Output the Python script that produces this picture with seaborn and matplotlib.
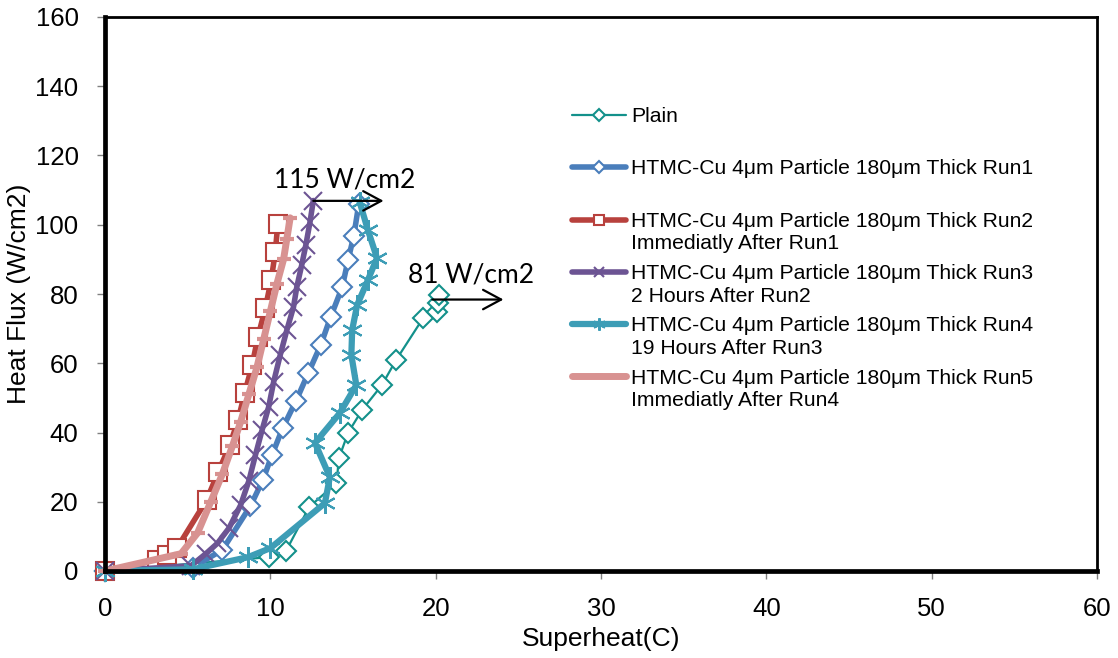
import numpy as np
import pandas as pd
import matplotlib
matplotlib.use("Agg")
import matplotlib.pyplot as plt
import seaborn as sns
from matplotlib.legend_handler import HandlerLine2D

# ---------------- data ----------------
plain_x = [0, 9.9, 10.95, 12.35, 14.0, 14.15, 14.7, 15.55, 16.75, 17.6, 19.25, 20.1, 20.15, 20.2]
plain_y = [0, 4.0, 5.8, 18.5, 25.4, 32.6, 39.9, 46.5, 53.7, 60.9, 73.1, 74.8, 77.4, 79.7]

run1_x = [0, 5.3, 7.1, 8.8, 9.55, 10.1, 10.75, 11.55, 12.3, 13.05, 13.65, 14.35, 14.7, 15.05, 15.35]
run1_y = [0, 1.0, 6.1, 18.8, 26.3, 33.5, 41.3, 49.1, 57.2, 65.3, 73.4, 82.0, 89.8, 96.8, 106.0]

run2_x = [0, 3.15, 3.75, 4.35, 6.15, 6.85, 7.55, 8.05, 8.45, 8.9, 9.25, 9.7, 10.05, 10.3, 10.45]
run2_y = [0, 3.2, 4.6, 6.6, 20.5, 28.6, 36.4, 43.6, 51.4, 59.5, 67.6, 76.0, 84.0, 92.1, 100.2]

run3_x = [0, 5.2, 6.1, 6.8, 7.5, 8.2, 8.7, 9.1, 9.5, 9.9, 10.2, 10.6, 11.0, 11.4, 11.6, 11.9, 12.15, 12.4, 12.6]
run3_y = [0, 1.5, 5.0, 8.0, 12.4, 19.0, 26.0, 33.5, 40.7, 47.4, 54.6, 62.4, 69.6, 76.2, 82.0, 88.4, 94.2, 100.8, 107.0]

run4_x = [0, 5.3, 8.65, 10.0, 13.3, 13.6, 12.7, 14.2, 15.2, 14.9, 14.95, 15.25, 15.9, 16.45, 15.9, 15.4]
run4_y = [0, 0.5, 4.0, 6.6, 19.6, 27.1, 37.0, 45.6, 53.7, 62.4, 69.6, 76.8, 84.0, 90.4, 98.5, 106.6]

run5_x = [0, 4.6, 5.6, 6.4, 7.1, 7.7, 8.2, 8.7, 9.2, 9.6, 10.0, 10.4, 10.8, 11.0, 11.2]
run5_y = [0, 5, 11, 20, 28, 36, 43, 51, 59, 67, 75, 83, 90, 96, 102]

labels = [
    "Plain",
    "HTMC-Cu 4\u03bcm Particle 180\u03bcm Thick Run1",
    "HTMC-Cu 4\u03bcm Particle 180\u03bcm Thick Run2\nImmediatly After Run1",
    "HTMC-Cu 4\u03bcm Particle 180\u03bcm Thick Run3\n2 Hours After Run2",
    "HTMC-Cu 4\u03bcm Particle 180\u03bcm Thick Run4\n19 Hours After Run3",
    "HTMC-Cu 4\u03bcm Particle 180\u03bcm Thick Run5\nImmediatly After Run4",
]
x_ticks = [0, 10, 20, 30, 40, 50, 60]
y_ticks = [0, 20, 40, 60, 80, 100, 120, 140, 160]
x_label = "Superheat(C)"
y_label = "Heat Flux (W/cm2)"
chf_labels = ["115 W/cm2", "81 W/cm2"]

# ---------------- style ----------------
sns.set_theme(style="white")
plt.rcParams['font.family'] = ['Liberation Sans', 'DejaVu Sans']
plt.rcParams['text.color'] = 'black'
plt.rcParams['axes.labelcolor'] = 'black'

fig = plt.figure(figsize=(11.18, 6.58), dpi=100)
ax = fig.add_axes([105/1118, 1 - 571/658, 992/1118, 554/658])

styles = [
    dict(color="#13918b", lw=1.6, marker="D", ms=10.5, mfc="white", mew=1.5),
    dict(color="#4a7ebb", lw=4.0, marker="D", ms=10.5, mfc="white", mew=1.5),
    dict(color="#b8413d", lw=4.0, marker="s", ms=13, mfc="white", mew=1.5),
    dict(color="#6c5493", lw=4.0, marker="x", ms=13, mfc="white", mew=1.5),
    dict(color="#3d9db6", lw=4.5, marker=(6, 2, 0), ms=15, mfc="white", mew=1.5),
    dict(color="#d89291", lw=5.0, marker="_", ms=10, mfc="white", mew=3.0),
]
xs = [plain_x, run1_x, run2_x, run3_x, run4_x, run5_x]
ys = [plain_y, run1_y, run2_y, run3_y, run4_y, run5_y]

for x, y, st, lab in zip(xs, ys, styles, labels):
    df = pd.DataFrame({"x": x, "y": y})
    sns.lineplot(data=df, x="x", y="y", ax=ax, sort=False, estimator=None,
                 color=st["color"], linewidth=st["lw"], marker=st["marker"],
                 markersize=st["ms"], markerfacecolor=st["mfc"],
                 markeredgecolor=st["color"], markeredgewidth=st["mew"],
                 label=lab, clip_on=False)

ax.set_xlim(0, 60)
ax.set_ylim(0, 160)
ax.set_xticks(x_ticks)
ax.set_yticks(y_ticks)
ax.tick_params(bottom=True, left=True, direction='out', length=6, width=1,
               color='#808080', labelcolor='black', labelsize=18.5)
ax.tick_params(axis='y', pad=13)
ax.tick_params(axis='x', pad=13)
ax.set_xlabel(x_label, fontsize=19, labelpad=4)
ax.set_ylabel(y_label, fontsize=19, labelpad=3)

for side, w in [("left", 3.4), ("bottom", 3.4), ("top", 2.0), ("right", 2.0)]:
    ax.spines[side].set_visible(True)
    ax.spines[side].set_color("black")
    ax.spines[side].set_linewidth(w)

# annotations
ax.annotate("", xy=(16.85, 106.9), xytext=(12.6, 106.9),
            arrowprops=dict(arrowstyle="->,head_length=1.3,head_width=0.7",
                            color="black", lw=1.6, mutation_scale=10,
                            shrinkA=0, shrinkB=0))
ax.annotate("", xy=(24.1, 78.4), xytext=(19.8, 78.4),
            arrowprops=dict(arrowstyle="->,head_length=1.3,head_width=0.7",
                            color="black", lw=1.6, mutation_scale=10,
                            shrinkA=0, shrinkB=0))
ax.text(14.5, 112.9, chf_labels[0], fontsize=19, family=['Lato', 'DejaVu Sans'],
        ha='center', va='center')
ax.text(22.15, 85.5, chf_labels[1], fontsize=19, family=['Lato', 'DejaVu Sans'],
        ha='center', va='center')

# legend: handle aligned with the first line of each label
class UpHandler(HandlerLine2D):
    def __init__(self, dy, **kw):
        super().__init__(**kw)
        self.dy = dy

    def create_artists(self, legend, orig_handle, xdescent, ydescent, width,
                       height, fontsize, trans):
        arts = super().create_artists(legend, orig_handle, xdescent, ydescent,
                                      width, height, fontsize, trans)
        for a in arts:
            a.set_ydata(np.asarray(a.get_ydata(), dtype=float) + self.dy)
        return arts

leg_fs = 15.2
handles = ax.get_lines()[:6]
leg_labels = [l if "\n" in l else l + "\n" for l in labels]
hm = {h: UpHandler(0.62 * leg_fs) for h in handles}
leg = ax.legend(handles, leg_labels, loc="upper left",
                bbox_to_anchor=(572/1118, 1 - 107/658),
                bbox_transform=fig.transFigure, frameon=False,
                fontsize=leg_fs, handlelength=2.55, handletextpad=0.25,
                labelspacing=0.5, borderpad=0, borderaxespad=0,
                markerscale=0.6, handler_map=hm)
for t in leg.get_texts():
    t.set_linespacing(1.25)

fig.savefig("out.png", dpi=100)
